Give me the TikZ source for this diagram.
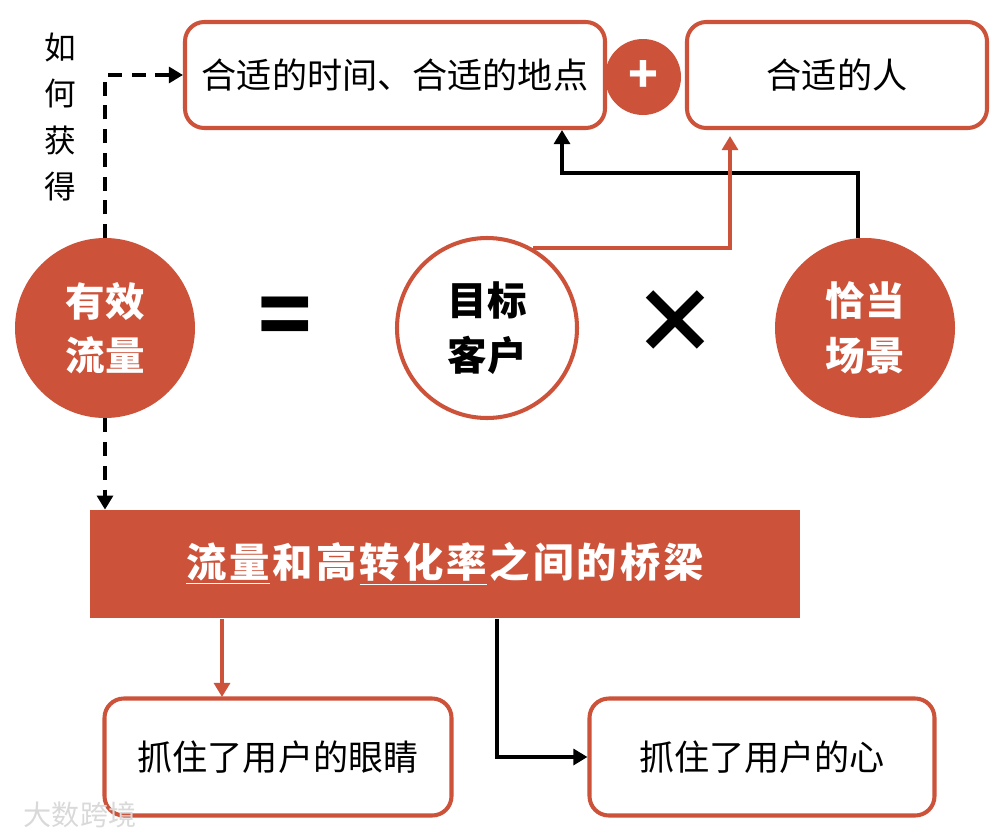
\documentclass[tikz,border=0pt]{standalone}
\usepackage{fontspec}
\setmainfont{Noto Sans CJK SC}
\usepackage{tikz}
\usetikzlibrary{arrows.meta}
\definecolor{brick}{RGB}{204,82,58}
\newcommand\gap{\hspace{1.7pt}}

\begin{document}
\begin{tikzpicture}[x=0.02cm, y=-0.02cm,
  box/.style={draw=brick, line width=2.3pt, rounded corners=11pt, fill=white, font=\fontsize{20}{24}\selectfont},
  ball/.style={circle, minimum size=180*0.02cm, inner sep=0pt, align=center, font=\fontsize{22.5}{31}\selectfont\bfseries},
  link/.style={line width=2.3pt, -{Triangle[length=8pt,width=9pt]}},
  dashlink/.style={link, dash pattern=on 8pt off 5.5pt}]
\useasboundingbox (0,0) rectangle (997,835);

% Top row: the two boxes and the plus
\node[box, minimum width=420*0.02cm, minimum height=106*0.02cm] (when) at (395,75) {合适的时间、合适的地点};
\node[box, minimum width=300*0.02cm, minimum height=106*0.02cm] (who) at (837,75) {合适的人};
\node[circle, fill=brick, minimum size=76*0.02cm, inner sep=0pt, text=white, font=\fontsize{28}{28}\selectfont\bfseries] (plus) at (643,77) {+};

% Question text (vertical)
\node[align=center, font=\fontsize{18}{26.5}\selectfont] (how) at (60,117) {如\\何\\获\\得};

% Equation row
\node[ball, fill=brick, text=white] (flow) at (105,328) {有效\\流量};
\node[font=\fontsize{50}{50}\selectfont\bfseries] (eq) at (285,322) {=};
\node[ball, draw=brick, line width=2.3pt, fill=white] (target) at (487,328) {目标\\客户};
\node[font=\fontsize{50}{50}\selectfont\bfseries] (times) at (675,322) {×};
\node[ball, fill=brick, text=white] (scene) at (865,328) {恰当\\场景};

% Bridge bar
\node[fill=brick, text=white, minimum width=710*0.02cm, minimum height=108*0.02cm, font=\fontsize{23}{26}\selectfont\bfseries] (bridge) at (445,564)
  {$\underline{\hbox{流\gap 量}}$\gap 和\gap 高\gap $\underline{\hbox{转\gap 化\gap 率}}$\gap 之\gap 间\gap 的\gap 桥\gap 梁};

% Bottom boxes
\node[box, minimum width=347*0.02cm, minimum height=117*0.02cm] (eyes) at (278,757) {抓住了用户的眼睛};
\node[box, minimum width=345*0.02cm, minimum height=117*0.02cm] (heart) at (762,757) {抓住了用户的心};

% Connectors
\coordinate (flowtop) at (105,238);
\draw[dashlink] (flowtop) |- (when.west);
\draw[dashlink] (flow.south) -- (flow.south |- bridge.north);
\draw[link] (858,238) |- (562,173) -- (562,130);
\draw[link, brick] (target.60) -| (730,136);
\draw[link, brick] (222,619) -- (222,697);
\draw[link] (497,619) |- (heart.west);

% Watermark
\node[text=black!15, font=\fontsize{16}{18}\selectfont] (mark) at (80,815) {大数跨境};
\end{tikzpicture}
\end{document}
